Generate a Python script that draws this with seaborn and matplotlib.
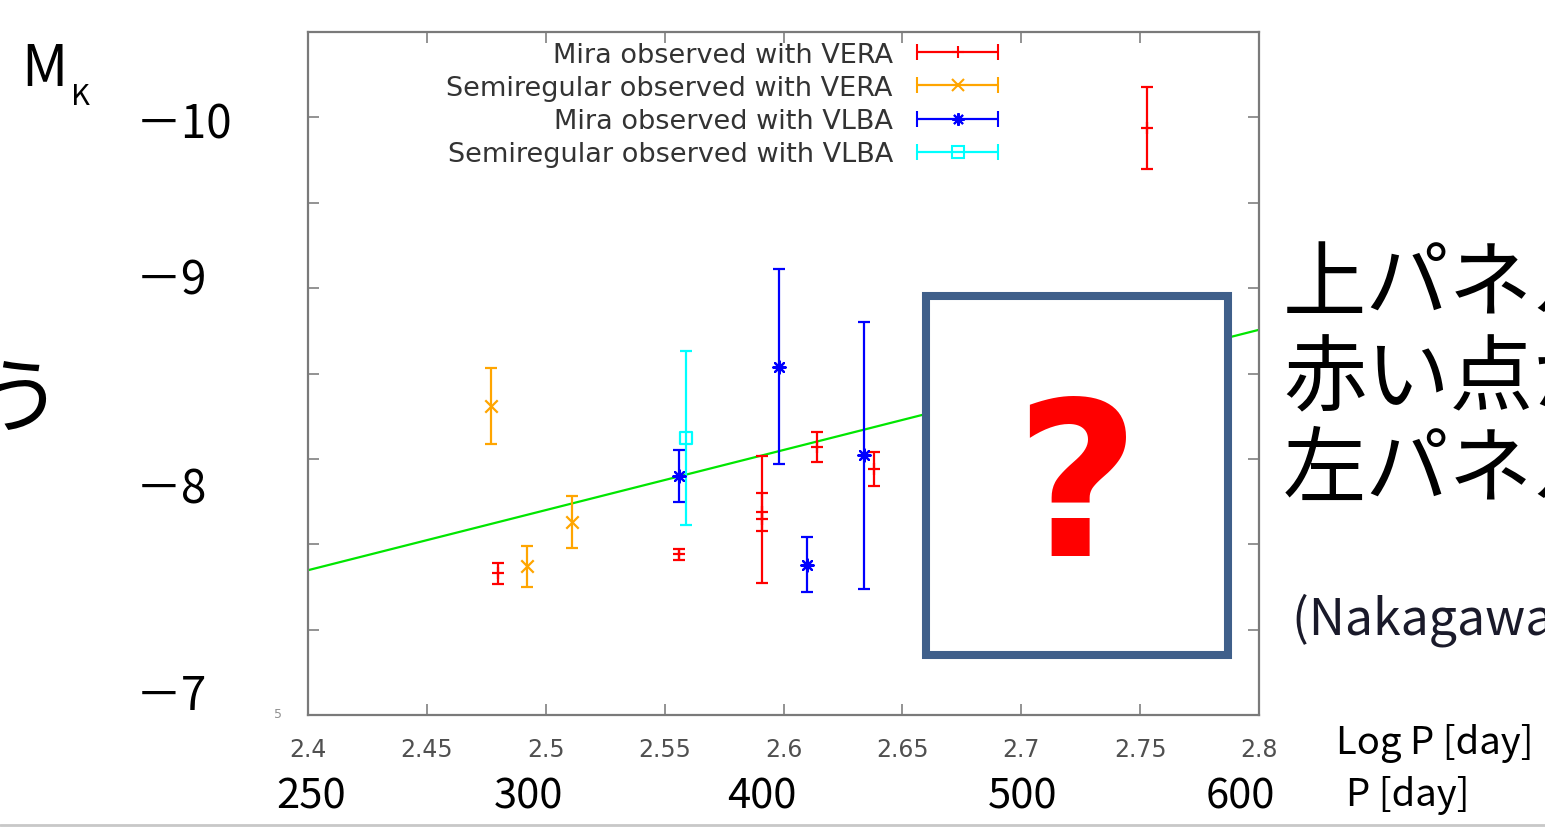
"""
Mira period-luminosity plot (M_K vs log P) with a slide overlay.
"""
import numpy as np
import matplotlib
matplotlib.use('Agg')
import matplotlib.pyplot as plt
import seaborn as sns
from matplotlib.patches import Rectangle
from matplotlib.container import ErrorbarContainer
from matplotlib.legend_handler import HandlerErrorbar

# --- data ---
mira_vera_logp = [2.480, 2.556, 2.591, 2.591, 2.614, 2.638, 2.753]
mira_vera_mk = [-7.33, -7.44, -7.645, -7.69, -8.07, -7.94, -9.94]
mira_vera_err = [0.06, 0.03, 0.37, 0.11, 0.09, 0.10, 0.24]

semi_vera_logp = [2.477, 2.492, 2.511]
semi_vera_mk = [-8.31, -7.37, -7.63]
semi_vera_err = [0.22, 0.12, 0.15]

mira_vlba_logp = [2.556, 2.598, 2.610, 2.634]
mira_vlba_mk = [-7.90, -8.54, -7.38, -8.02]
mira_vlba_err = [0.15, 0.57, 0.16, 0.78]

semi_vlba_logp = [2.559]
semi_vlba_mk = [-8.12]
semi_vlba_err = [0.51]

fit_logp = np.array([2.4, 2.8])
fit_slope = -3.52
fit_zero = 1.10

xticks = [2.4, 2.45, 2.5, 2.55, 2.6, 2.65, 2.7, 2.75, 2.8]
xtick_labels = ['2.4', '2.45', '2.5', '2.55', '2.6', '2.65', '2.7', '2.75', '2.8']
yticks = np.arange(-10.5, -6.4, 0.5)
mk_labels = ['\uff0d10', '\uff0d9', '\uff0d8', '\uff0d7']
period_labels = ['250', '300', '400', '500', '600']

series = [
    ("Mira observed with VERA", mira_vera_logp, mira_vera_mk, mira_vera_err, '#ff0000', '+'),
    ("Semiregular observed with VERA", semi_vera_logp, semi_vera_mk, semi_vera_err, '#ffa500', 'x'),
    ("Mira observed with VLBA", mira_vlba_logp, mira_vlba_mk, mira_vlba_err, '#0000ff', (8, 2, 0)),
    ("Semiregular observed with VLBA", semi_vlba_logp, semi_vlba_mk, semi_vlba_err, '#00ffff', 's'),
]

sns.set_style("white")
plt.rcParams['font.family'] = ['DejaVu Sans']
JP = ['Noto Sans CJK JP', 'DejaVu Sans']

W, H = 1545, 828
fig = plt.figure(figsize=(W / 100, H / 100), dpi=100)
ax = fig.add_axes([308 / W, 1 - 716 / H, (1259 - 308) / W, (716 - 33) / H])

# fit line
sns.lineplot(x=fit_logp, y=fit_slope * fit_logp + fit_zero, color='#00e600',
             linewidth=1.6, ax=ax, zorder=1)

handles = []
for label, lp, mk, err, color, marker in series:
    ax.errorbar(lp, mk, yerr=err, fmt='none', ecolor=color, elinewidth=1.6,
                capsize=4, capthick=1.6, zorder=2)
    if marker == 's':
        sns.scatterplot(x=lp, y=mk, marker=marker, s=75, facecolor='none',
                        edgecolor=color, linewidth=1.6, ax=ax, zorder=3)
    else:
        sns.scatterplot(x=lp, y=mk, marker=marker, s=80, color=color,
                        linewidth=1.6, ax=ax, zorder=3)
    # legend proxy with horizontal bar, like gnuplot's key
    h = ax.errorbar([np.nan], [np.nan], xerr=[0.0], fmt='', marker=marker, linestyle='none',
                    color=color, mfc='none' if marker == 's' else color, ms=9, mew=1.5,
                    elinewidth=1.6, capsize=5.5, capthick=1.6, label=label)
    handles.append(h)

ax.set_xlim(2.4, 2.8)
ax.set_ylim(-6.5, -10.5)
ax.set_xticks(xticks)
ax.set_xticklabels(xtick_labels)
ax.set_yticks(yticks)
ax.set_yticklabels([])
ax.set_xlabel('')
ax.set_ylabel('')
ax.tick_params(direction='in', length=8, width=1.2, color='#808080',
               top=True, right=True, bottom=True, left=True,
               labelsize=17, labelcolor='#505050', pad=16)
for sp in ax.spines.values():
    sp.set_color('#7a7a7a')
    sp.set_linewidth(1.6)

ax.legend(handles=handles, handler_map={ErrorbarContainer: HandlerErrorbar(xerr_size=1.5)},
          loc='upper right', bbox_to_anchor=(0.726, 0.986), frameon=False, markerfirst=False,
          fontsize=19.5, handlelength=3.0, handletextpad=0.9, labelspacing=0.27,
          borderpad=0, borderaxespad=0, labelcolor='#333333', numpoints=1)


def px(x, y):
    return x / W, 1 - y / H


# slide overlay texts
fig.text(*px(21, 70), 'M', fontsize=41, family=JP, color='black', va='center', ha='left')
fig.text(*px(71, 97), 'K', fontsize=21, family=JP, color='black', va='center', ha='left')
for lab, yy in zip(mk_labels, [125, 281, 490, 697]):
    fig.text(*px(136, yy), lab, fontsize=33, family=JP, color='black', va='center', ha='left')
for lab, xx in zip(period_labels, [311, 528, 762, 1023, 1240]):
    fig.text(*px(xx, 797), lab, fontsize=30, family=JP, color='black', va='center', ha='center')
fig.text(*px(1336, 744), 'Log P [day]', fontsize=27.5, family=JP, color='black', va='center', ha='left')
fig.text(*px(1346, 796), 'P [day]', fontsize=27.5, family=JP, color='black', va='center', ha='left')
fig.text(*px(278, 715), '5', fontsize=9, color='#909090', va='center', ha='center')

fig.text(*px(-22, 402), 'う', fontsize=60, family=JP, color='black', va='center', ha='left')
for line, yy in zip(['上パネル', '赤い点が', '左パネル'], [286, 380, 472]):
    fig.text(*px(1283, yy), line, fontsize=60, family=JP, color='black', va='center', ha='left')
fig.text(*px(1292, 620), '(Nakagawa et al. 2016)', fontsize=36, family=JP,
         color='#1a1a2a', va='center', ha='left')

# question box
box = Rectangle(px(926, 656), (1228 - 926) / W, (656 - 297) / H, transform=fig.transFigure,
                facecolor='white', edgecolor='#3f5f8a', linewidth=5.8, zorder=10)
fig.add_artist(box)
fig.text(*px(1077, 497), '?', fontsize=155, fontweight='bold', color='#ff0000',
         va='center', ha='center', zorder=11)

# slide border at the bottom
fig.add_artist(plt.Line2D([0, 1], [1 - 826 / H] * 2, transform=fig.transFigure,
                          color='#c8c8c8', linewidth=2))

plt.savefig('out.png', dpi=100)
plt.close()
